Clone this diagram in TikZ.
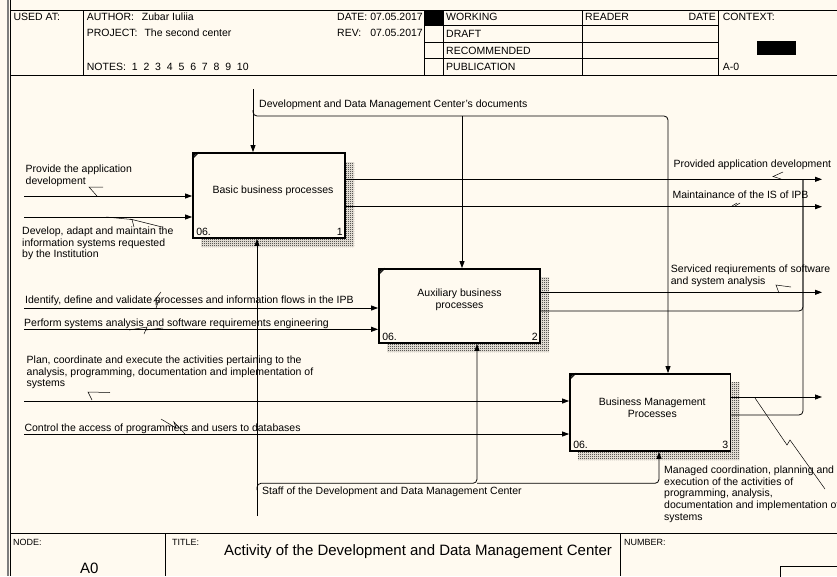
\documentclass[tikz,border=0pt]{standalone}
\usepackage{fontspec}
\setmainfont{Liberation Sans}
\usetikzlibrary{arrows.meta,patterns,calc}
\definecolor{paper}{RGB}{255,250,240}
\definecolor{framegray}{RGB}{125,125,125}
% fine checkerboard used for the box shadows
\pgfdeclarepatternformonly{checker}{\pgfqpoint{0pt}{0pt}}{\pgfqpoint{2pt}{2pt}}{\pgfqpoint{2pt}{2pt}}{%
  \pgfpathrectangle{\pgfqpoint{0pt}{0pt}}{\pgfqpoint{1pt}{1pt}}%
  \pgfpathrectangle{\pgfqpoint{1pt}{1pt}}{\pgfqpoint{1pt}{1pt}}%
  \pgfusepath{fill}}
\begin{document}
\begin{tikzpicture}[x=1pt,y=-1pt,
  txt/.style={font=\fontsize{10.5}{11.7}\selectfont,inner sep=0pt,anchor=base west},
  mtxt/.style={font=\fontsize{10.5}{11.7}\selectfont,inner sep=0pt,anchor=north west,align=left},
  small/.style={font=\fontsize{9}{10}\selectfont,inner sep=0pt,anchor=base west},
  big/.style={font=\fontsize{15}{17}\selectfont,inner sep=0pt,anchor=base west},
  rule/.style={line width=0.9pt},
  flow/.style={line width=0.8pt},
  arr/.style={flow,-{Triangle[length=7pt,width=5pt]}},
  squig/.style={line width=0.5pt},
  box/.style={draw,line width=1.8pt,fill=paper,inner sep=0pt},
  shade/.style={pattern=checker,pattern color=black},
  boxtext/.style={font=\fontsize{10.5}{11.7}\selectfont,align=center,inner sep=0pt},
]
\useasboundingbox (0,0) rectangle (837,576);
\fill[paper] (0,0) rectangle (837,576);

% ---------- frame and header ----------
\draw[framegray,line width=2pt] (7.5,0) -- (7.5,576);
\draw[rule] (10,0) -- (10,576);
\draw[rule] (10,10) -- (837,10);
\draw[rule] (10,75.5) -- (837,75.5);
\draw[rule] (83,10) -- (83,75.5);
\draw[rule] (424,10) -- (424,75.5);
\draw[rule] (443,10) -- (443,75.5);
\draw[rule] (582,10) -- (582,75.5);
\draw[rule] (718,10) -- (718,75.5);
\foreach \yy in {25,42,58.5} \draw[rule] (424,\yy) -- (718,\yy);
\fill (424,10) rectangle (443,25);
\fill (757,41) rectangle (796,55);

\node[txt] at (13.3,20.7) {USED AT:};
\node[txt] at (86.7,20.7) {AUTHOR:};
\node[txt] at (141.7,20.7) {Zubar Iuliia};
\node[txt] at (86.7,36.7) {PROJECT:};
\node[txt] at (144.3,36.7) {The second center};
\node[txt] at (86.7,70.7) {NOTES:};
\node[txt] at (131.7,70.7) {1 \ 2 \ 3 \ 4 \ 5 \ 6 \ 7 \ 8 \ 9 \ 10};
\node[txt] at (337,20.7) {DATE:};
\node[txt,anchor=base east] at (423,20.7) {07.05.2017};
\node[txt] at (337,36.7) {REV:};
\node[txt,anchor=base east] at (423,36.7) {07.05.2017};
\node[txt] at (446,20.7) {WORKING};
\node[txt] at (446,37) {DRAFT};
\node[txt] at (446,54.5) {RECOMMENDED};
\node[txt] at (446,70.7) {PUBLICATION};
\node[txt] at (585,20.7) {READER};
\node[txt,anchor=base east] at (716,20.7) {DATE};
\node[txt] at (722.7,20.7) {CONTEXT:};
\node[txt] at (722.7,70.7) {A-0};

% ---------- title block ----------
\draw[rule] (10,533) -- (837,533);
\draw[rule] (165,533) -- (165,576);
\draw[rule] (620,533) -- (620,576);
\draw[rule] (780,566) rectangle (845,585);
\node[small] at (13,545) {NODE:};
\node[small] at (172,545) {TITLE:};
\node[small] at (624,545) {NUMBER:};
\node[big] at (224,555) {Activity of the Development and Data Management Center};
\node[big] at (80,573.5) {A0};

% ---------- activity boxes ----------
\fill[shade] (345,162) -- (354,162) -- (354,247) -- (201,247) -- (201,238) -- (345,238) -- cycle;
\fill[shade] (540,277) -- (549,277) -- (549,352) -- (387,352) -- (387,343) -- (540,343) -- cycle;
\fill[shade] (730.5,382) -- (739.5,382) -- (739.5,460) -- (578,460) -- (578,451) -- (730.5,451) -- cycle;

\node[box,minimum width=152pt,minimum height=85pt] (b1) at (269,195.5) {};
\node[box,minimum width=161pt,minimum height=74pt] (b2) at (459.5,306) {};
\node[box,minimum width=160.5pt,minimum height=77pt] (b3) at (650.25,412.5) {};

\node[boxtext] (b1t) at ($(b1.center)+(4,-5)$) {Basic business processes};
\node[boxtext] (b2t) at ($(b2.center)+(0,-6.5)$) {Auxiliary business\\processes};
\node[boxtext] (b3t) at ($(b3.center)+(2,-5)$) {Business Management\\Processes};

\foreach \b/\n in {b1/1,b2/2,b3/3}{
  \fill ($(\b.north west)+(0,6)$) -- (\b.north west) -- ($(\b.north west)+(6,0)$) -- cycle;
  \draw[flow] ($(\b.north west)+(0,7)$) -- ($(\b.north west)+(7,0)$);
  \node[txt] at ($(\b.south west)+(4,-3)$) {06.};
  \node[txt,anchor=base east] at ($(\b.south east)+(-3,-3)$) {\n};
}

% ---------- controls ----------
\coordinate (ctop) at (253,89);
\coordinate (cjoin) at (253,110);
\coordinate (cmid) at (462,116);
\coordinate (cright) at (668,116);
\draw[arr] (ctop) -- (ctop |- b1.north);
\draw[arr,rounded corners=4] (cjoin) |- (cright) -- (cright |- b3.north);
\draw[arr] (cmid) -- (cmid |- b2.north);
\node[txt] (lctl) at (259,107.3) {Development and Data Management Center's documents};

% ---------- inputs ----------
\coordinate (i1) at (24,196);
\coordinate (i2) at (24,217);
\coordinate (i3) at (24,308);
\coordinate (i4) at (24,329.3);
\coordinate (i5) at (24,401);
\coordinate (i6) at (24,434);
\draw[arr] (i1) -- (i1 -| b1.west);
\draw[arr] (i2) -- (i2 -| b1.west);
\draw[arr] (i3) -- (i3 -| b2.west);
\draw[arr] (i4) -- (i4 -| b2.west);
\draw[arr] (i5) -- (i5 -| b3.west);
\draw[arr] (i6) -- (i6 -| b3.west);

\node[mtxt] at (25.5,164.6) {Provide the application\\development};
\node[mtxt] at (22,226.6) {Develop, adapt and maintain the\\information systems requested\\by the Institution};
\node[txt] at (25,303.3) {Identify, define and validate processes and information flows in the IPB};
\node[txt] at (24,326) {Perform systems analysis and software requirements engineering};
\node[mtxt] at (26.5,355.6) {Plan, coordinate and execute the activities pertaining to the\\analysis, programming, documentation and implementation of\\systems};
\node[txt] at (24.3,431) {Control the access of programmers and users to databases};

% ---------- outputs ----------
\coordinate (o1) at (822,179.3);
\coordinate (o2) at (822,206.7);
\coordinate (o3) at (822,292.3);
\coordinate (o4) at (822,397);
\coordinate (merge) at (803,180);
\draw[arr] (o1 -| b1.east) -- (o1);
\draw[arr] (o2 -| b1.east) -- (o2);
\draw[arr] (o3 -| b2.east) -- (o3);
\draw[arr] (o4 -| b3.east) -- (o4);
\draw[flow,rounded corners=4] (b2.east |- 0,311) -| (merge);
\draw[flow,rounded corners=4] (b3.east |- 0,415) -| (merge);

\node[txt] at (673.3,167.3) {Provided application development};
\node[txt] at (672.3,198.3) {Maintainance of the IS of IPB};
\node[mtxt] at (670.7,265) {Serviced reqiurements of software\\and system analysis};
\node[mtxt] at (664,465.6) {Managed coordination, planning and\\execution of the activities of\\programming, analysis,\\documentation and implementation of\\systems};

% ---------- mechanisms ----------
\coordinate (mbot) at (257,516);
\coordinate (mjoin) at (257,490);
\coordinate (m2) at (477,483.3);
\coordinate (m3) at (659,483.3);
\draw[arr] (mbot) -- (mbot |- b1.south);
\draw[arr,rounded corners=4] (mjoin) |- (m2) -- (m2 |- b2.south);
\draw[arr,rounded corners=4] (m2) -| (m3 |- b3.south);
\node[txt] at (262,494.3) {Staff of the Development and Data Management Center};

% ---------- label leaders ----------
\draw[squig] (103,187) -- (89,187) -- (97,196);
\draw[squig] (106,217) -- (132,219.5) -- (134,227);
\draw[squig] (130,219) -- (162,227);
\draw[squig] (161,292) -- (154,301) -- (159,300) -- (156,308);
\draw[squig] (129,330) -- (147,327) -- (144,334);
\draw[squig] (146,330) -- (163,328);
\draw[squig] (110,392.5) -- (88,392) -- (92,400);
\draw[squig] (161,419) -- (176,428) -- (174,422) -- (185,434);
\draw[squig] (783,172) -- (773,176.5) -- (781,179);
\draw[squig] (732,206) -- (737,203);
\draw[squig] (735,206) -- (740,203);
\draw[squig] (791,287) -- (776,285) -- (779,293);
\draw[squig] (755,398) -- (787,445) -- (790,440) -- (825,489);
\end{tikzpicture}
\end{document}
